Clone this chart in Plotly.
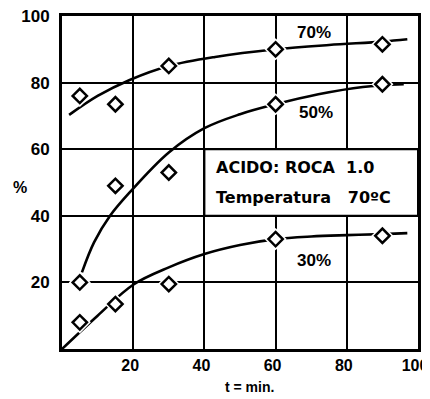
import plotly.graph_objects as go

# Measured points (t in min, %)
t_points = [5, 15, 30, 60, 90]
p70 = [76, 73.5, 85, 90, 91.5]
p50 = [20, 49, 53, 73.5, 79.5]
p30 = [8, 13.5, 19.5, 33, 34]

# Fitted curves
c70_x = [2, 10, 19, 30, 43, 60, 75, 90, 97]
c70_y = [70.3, 76, 80.8, 85, 87.7, 90, 91.3, 92.3, 93]
c50_x = [5.6, 9, 13.5, 19, 30, 40, 50, 60, 72, 84.5, 96]
c50_y = [23, 32, 40, 47, 59, 66.3, 70.5, 73.5, 76.5, 78.7, 79.5]
c30_x = [0, 10, 20, 30, 40, 50, 60, 70, 80, 90, 97]
c30_y = [0, 10, 19.3, 24.5, 28.5, 31.2, 33, 33.8, 34.2, 34.5, 34.8]

x_ticks = [20, 40, 60, 80, 100]
y_ticks = [20, 40, 60, 80, 100]

FONT = "Liberation Sans"
BOXFONT = "DejaVu Sans"
fig = go.Figure()

for cx, cy in [(c70_x, c70_y), (c50_x, c50_y), (c30_x, c30_y)]:
    fig.add_trace(go.Scatter(x=cx, y=cy, mode="lines",
                             line=dict(color="black", width=2.6, shape="spline", smoothing=1.0),
                             hoverinfo="skip", showlegend=False))

for py in [p70, p50, p30]:
    fig.add_trace(go.Scatter(x=t_points, y=py, mode="markers",
                             marker=dict(symbol="diamond", size=17, color="white",
                                         line=dict(width=0)),
                             showlegend=False, hoverinfo="skip"))
    fig.add_trace(go.Scatter(x=t_points, y=py, mode="markers",
                             marker=dict(symbol="diamond", size=11, color="white",
                                         line=dict(color="black", width=2.5)),
                             showlegend=False))

fig.add_shape(type="rect", x0=40, x1=100, y0=40, y1=60, xref="x", yref="y",
              fillcolor="white", line=dict(color="black", width=2), layer="between")

annots = [
    dict(x=70.7, y=95, text="70%"),
    dict(x=71.3, y=71, text="50%"),
    dict(x=70.7, y=26.7, text="30%"),
]
for a in annots:
    fig.add_annotation(x=a["x"], y=a["y"], text=a["text"], showarrow=False,
                       font=dict(family=FONT, size=17, color="black", weight="bold"),
                       bgcolor="white", borderpad=0)

fig.add_annotation(x=42.8, y=54.6, text="ACIDO: ROCA\u00a0\u00a01.0", showarrow=False, xanchor="left",
                   font=dict(family=BOXFONT, size=16, color="black", weight="bold"))
fig.add_annotation(x=42.8, y=45.6, text="Temperatura\u00a0\u00a0\u00a070ºC", showarrow=False, xanchor="left",
                   font=dict(family=BOXFONT, size=16, color="black", weight="bold"))
fig.add_annotation(x=-0.118, y=0.486, xref="paper", yref="paper", text="%", showarrow=False,
                   xanchor="center", yanchor="middle",
                   font=dict(family=FONT, size=16, color="black", weight="bold"))
fig.add_annotation(x=0.528, y=-0.114, xref="paper", yref="paper", text="t = min.", showarrow=False,
                   xanchor="center", yanchor="middle",
                   font=dict(family=FONT, size=14, color="black", weight="bold"))

fig.update_layout(
    width=430, height=399,
    margin=dict(l=54, r=20, t=8, b=58),
    paper_bgcolor="white", plot_bgcolor="white",
    showlegend=False,
    font=dict(family=FONT, color="black"),
)

fig.update_xaxes(range=[0, 100], tickvals=x_ticks, ticktext=[str(v) for v in x_ticks],
                 showgrid=True, gridcolor="black", gridwidth=2,
                 showline=True, linecolor="black", linewidth=3, mirror=True,
                 zeroline=False, ticks="", ticklen=0, ticklabelstandoff=0, ticklabelshift=-3,
                 automargin=False, ticklabeloverflow="allow",
                 tickfont=dict(family=FONT, size=16, color="black", weight="bold"))
fig.update_yaxes(range=[0, 100], tickvals=y_ticks, ticktext=[str(v) for v in y_ticks],
                 showgrid=True, gridcolor="black", gridwidth=2,
                 showline=True, linecolor="black", linewidth=3, mirror=True,
                 zeroline=False, ticks="", ticklabelstandoff=6, automargin=False,
                 ticklabeloverflow="allow",
                 tickfont=dict(family=FONT, size=17, color="black", weight="bold"))

fig.write_html("out.html")
